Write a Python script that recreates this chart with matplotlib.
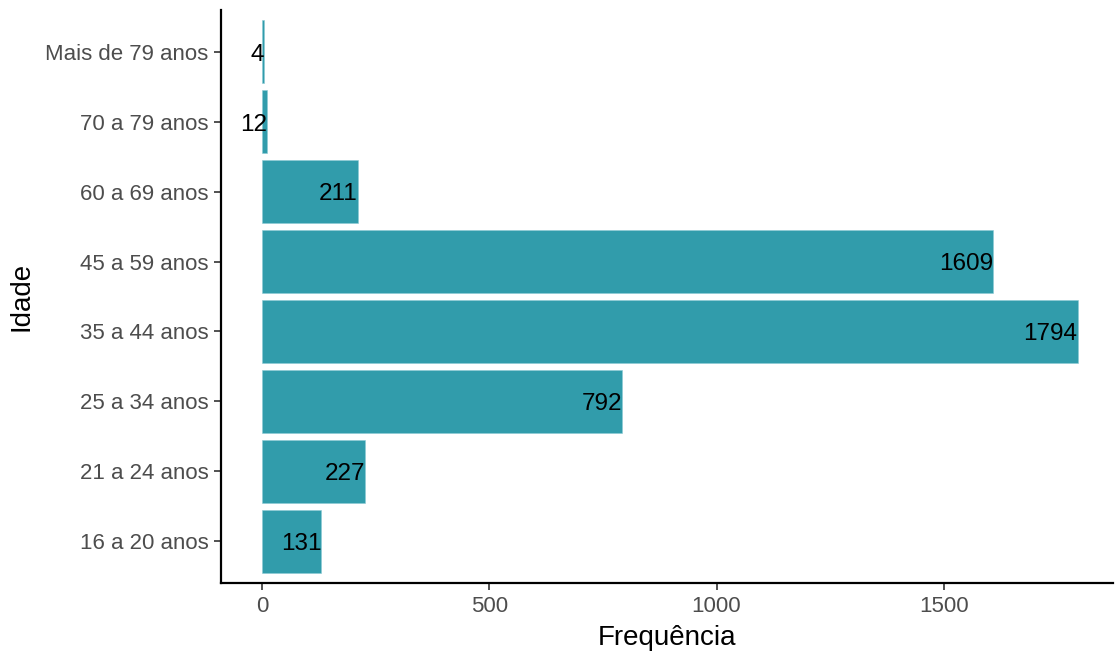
import matplotlib
matplotlib.use("Agg")
import matplotlib.pyplot as plt

categories = ["16 a 20 anos", "21 a 24 anos", "25 a 34 anos", "35 a 44 anos",
              "45 a 59 anos", "60 a 69 anos", "70 a 79 anos", "Mais de 79 anos"]
values = [131, 227, 792, 1794, 1609, 211, 12, 4]
xticks = [0, 500, 1000, 1500]

plt.rcParams['font.family'] = ['Liberation Sans', 'DejaVu Sans']

fig = plt.figure(figsize=(11.15, 6.53), dpi=100)
ax = fig.add_axes([221/1115, 70/653, 892/1115, 573/653])

pos = list(range(1, len(categories) + 1))
ax.barh(pos, values, height=0.9, color="#319CAB", edgecolor="#8CCAD4", linewidth=0.4)
lab_size = 17.5
for p, v in zip(pos, values):
    ax.annotate(str(v), xy=(v, p), xytext=(0, -lab_size * 0.716 / 2),
                textcoords='offset points', ha='right', va='baseline',
                fontsize=lab_size, color='black')

ax.set_xlim(-90, 1872)
ax.set_ylim(0.4, len(categories) + 0.6)
ax.set_yticks(pos)
ax.set_yticklabels(categories)
ax.set_xticks(xticks)
ax.set_xticklabels([str(t) for t in xticks])

for s in ['top', 'right']:
    ax.spines[s].set_visible(False)
for s in ['left', 'bottom']:
    ax.spines[s].set_linewidth(1.6)
    ax.spines[s].set_color('black')
ax.tick_params(axis='both', length=5, width=1.2, color='#333333', labelsize=16,
               labelcolor='#4D4D4D', pad=4)
for t in ax.get_yticklabels():
    t.set_va('center_baseline')

ax.set_xlabel("Frequência", fontsize=20, color='black', labelpad=6)
ax.set_ylabel("Idade", fontsize=20, color='black', labelpad=8)

fig.savefig("out.png", dpi=100)
